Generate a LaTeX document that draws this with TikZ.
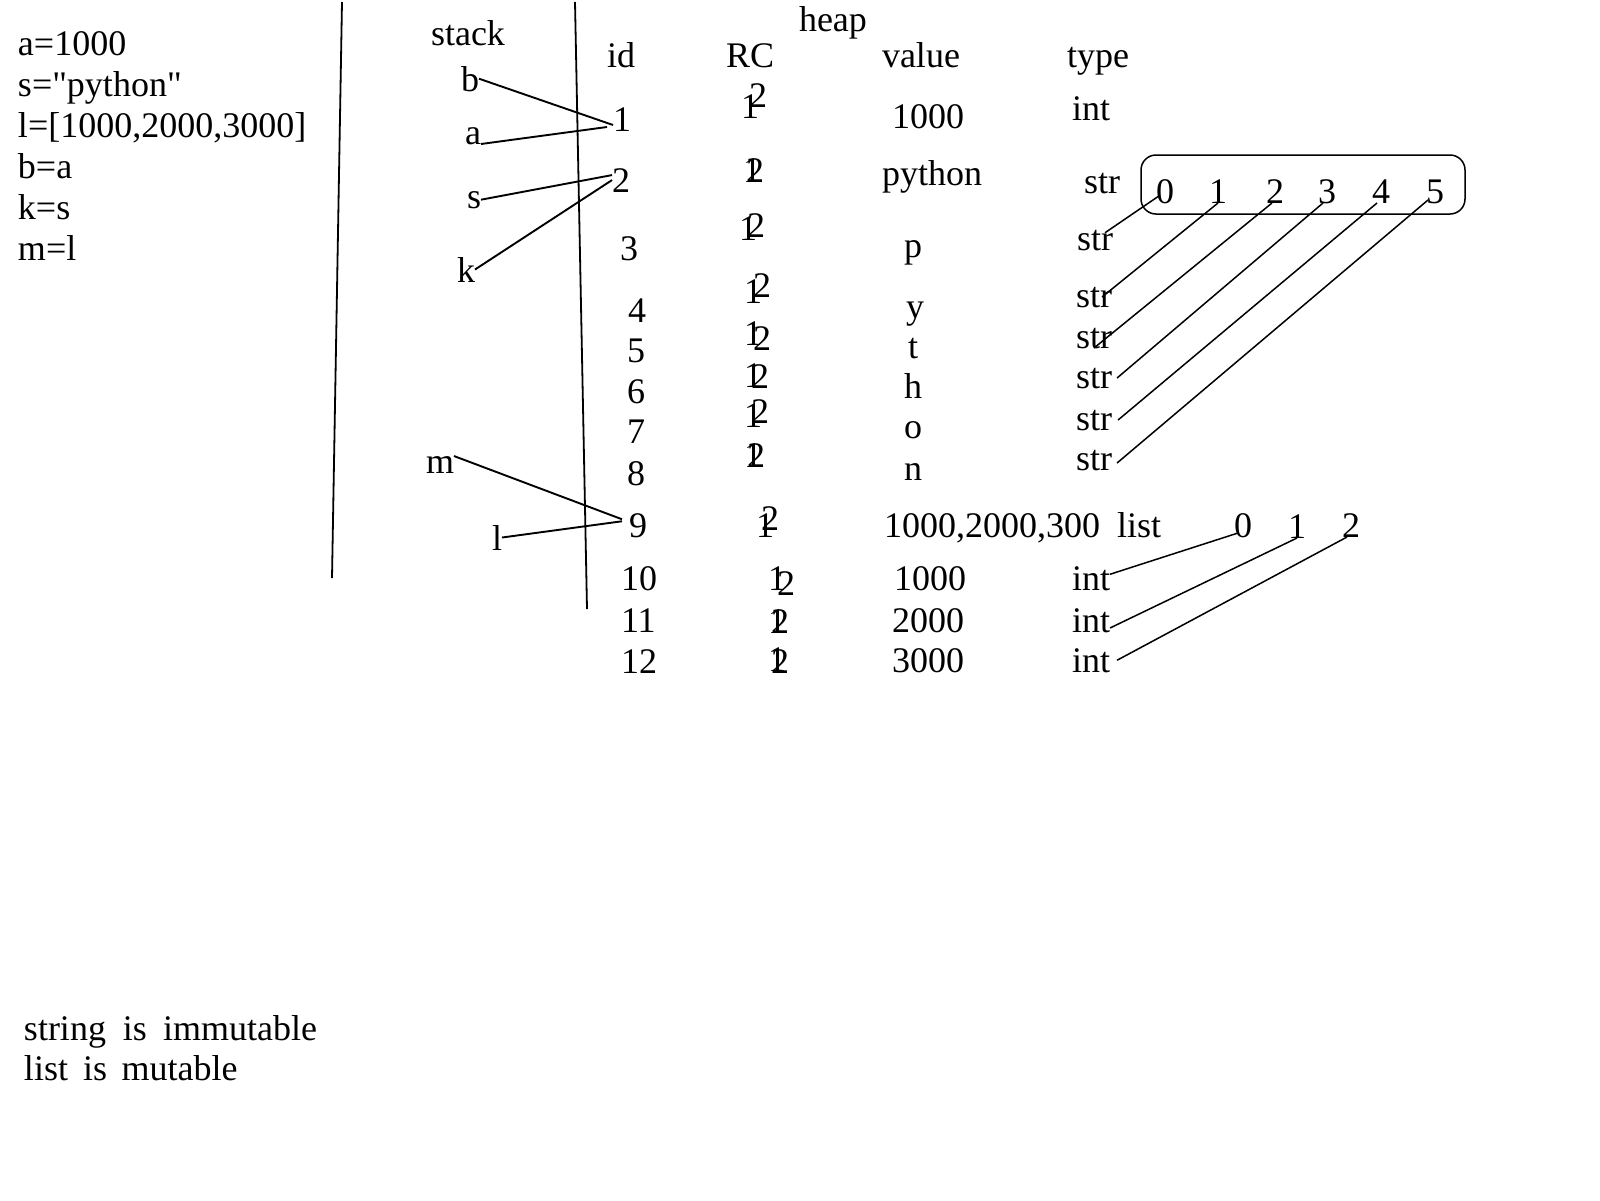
\documentclass[tikz,border=0pt]{standalone}
\usepackage{fontspec}
\setmainfont{Liberation Serif}[Ligatures=TeXOff]
\begin{document}
\begin{tikzpicture}[x=0.5pt,y=-0.5pt,
  every node/.style={inner sep=0pt, outer sep=0pt, anchor=base west, font=\fontsize{18}{21}\selectfont},
  conn/.style={line width=0.75pt},
  stackconn/.style={line width=0.95pt},
  divider/.style={line width=0.9pt},
  strboxstyle/.style={draw, line width=0.75pt, rounded corners=7.5pt, anchor=center, minimum width=162pt, minimum height=29.5pt}]
\useasboundingbox (0,0) rectangle (1600,1200);
% code
\node (c1) at (18,55) {a=1000};
\node (c2) at (18,96) {s="python"};
\node (c3) at (18,137) {l=[1000,2000,3000]};
\node (c4) at (18,178) {b=a};
\node (c5) at (18,219) {k=s};
\node (c6) at (18,260) {m=l};
\node (n1) at (24,1040) {string\hspace{0.47em}is\hspace{0.45em}immutable};
\node (n2) at (24,1080) {list\hspace{0.42em}is\hspace{0.4em}mutable};
% dividers
\draw[divider] (342,2) -- (332,578);
\draw[divider] (575,2) -- (587,609);
% headers
\node (hstack) at (431,45) {stack};
\node (hheap) at (799,31) {heap};
\node (hid) at (607,67) {id};
\node (hrc) at (726,67) {RC};
\node (hval) at (882,67) {value};
\node (htype) at (1067,67) {type};
% stack variables
\node (vb) at (461,91) {b};
\node (va) at (465,144) {a};
\node (vs) at (467,208) {s};
\node (vk) at (457,282) {k};
\node (vm) at (426,473) {m};
\node (vl) at (492,550) {l};
% ids
\node (id1) at (613,131) {1};
\node (id2) at (612,192) {2};
\node (id3) at (620,260) {3};
\node (id4) at (628,322) {4};
\node (id5) at (627,362) {5};
\node (id6) at (627,403) {6};
\node (id7) at (627,443) {7};
\node (id8) at (627,485) {8};
\node (id9) at (629,537) {9};
\node (id10) at (621,590) {10};
\node (id11) at (621,632) {11};
\node (id12) at (621,673) {12};
% RC (overwritten 1 -> 2)
\node (ra1) at (741,118) {1}; \node (rb1) at (749,107) {2};
\node (ra2) at (743,182) {1}; \node (rb2) at (746,182) {2};
\node (ra3) at (739,240) {1}; \node (rb3) at (747,237) {2};
\node (ra4) at (744,303) {1}; \node (rb4) at (753,297) {2};
\node (ra5) at (744,345) {1}; \node (rb5) at (753,350) {2};
\node (ra6) at (744,387) {1}; \node (rb6) at (751,388) {2};
\node (ra7) at (744,427) {1}; \node (rb7) at (751,423) {2};
\node (ra8) at (744,467) {1}; \node (rb8) at (747,467) {2};
\node (ra9) at (756,537) {1}; \node (rb9) at (761,530) {2};
\node (ra10) at (768,590) {1}; \node (rb10) at (777,595) {2};
\node (ra11) at (768,633) {1}; \node (rb11) at (771,633) {2};
\node (ra12) at (768,671) {1}; \node (rb12) at (771,673) {2};
% values
\node (val1) at (892,128) {1000};
\node (val2) at (882,185) {python};
\node (val3) at (904,257) {p};
\node (val4) at (906,318) {y};
\node (val5) at (908,358) {t};
\node (val6) at (904,398) {h};
\node (val7) at (904,438) {o};
\node (val8) at (904,480) {n};
\node (val9) at (884,537) {1000,2000,300};
\node (val10) at (894,590) {1000};
\node (val11) at (892,632) {2000};
\node (val12) at (892,672) {3000};
% types
\node (t1) at (1072,120) {int};
\node (t2) at (1084,193) {str};
\node (t3) at (1077,250) {str};
\node (t4) at (1076,307) {str};
\node (t5) at (1076,348) {str};
\node (t6) at (1076,388) {str};
\node (t7) at (1076,430) {str};
\node (t8) at (1076,470) {str};
\node (t9) at (1117,537) {list};
\node (t10) at (1072,590) {int};
\node (t11) at (1072,632) {int};
\node (t12) at (1072,672) {int};
% string index box
\node[strboxstyle] (sbox) at (1303,184.5) {};
\node (d0) at (1156,203) {0};
\node (d1) at (1209,203) {1};
\node (d2) at (1266,203) {2};
\node (d3) at (1318,203) {3};
\node (d4) at (1372,203) {4};
\node (d5) at (1426,203) {5};
% list indices
\node (l0) at (1234,537) {0};
\node (l1) at (1288,538) {1};
\node (l2) at (1342,537) {2};
% stack connectors
\draw[stackconn] (vb.east) -- ([yshift=3pt]id1.base west);
\draw[stackconn] (va.base east) -- ([xshift=-3pt,yshift=2pt]id1.base west);
\draw[stackconn] (vs.east) -- ([yshift=2.5pt]id2.west);
\draw[stackconn] (vk.east) -- (id2.west);
\draw[stackconn] (vm.north east) -- ([xshift=-3.5pt,yshift=3pt]id9.west);
\draw[stackconn] (vl.east) -- ([xshift=-3.5pt,yshift=2pt]id9.west);
% string connectors
\draw[conn] ([xshift=2pt,yshift=-2pt]d0.west) -- ([xshift=-4pt,yshift=-1.5pt]t3.north east);
\draw[conn] (d1.base) -- ([xshift=4pt]t4.center);
\draw[conn] ([xshift=-1.5pt]d2.base) -- (t5.base);
\draw[conn] ([xshift=-2pt]d3.base) -- ([xshift=2.5pt]t6.east);
\draw[conn] ([xshift=-2pt]d4.base) -- ([xshift=3pt]t7.east);
\draw[conn] ([xshift=-3.5pt,yshift=1.5pt]d5.base) -- ([xshift=2.5pt,yshift=-1.5pt]t8.east);
% list connectors
\draw[conn] ([xshift=2pt,yshift=2pt]l0.base west) -- ([yshift=2pt]t10.east);
\draw[conn] (l1.base) -- ([yshift=2pt]t11.base east);
\draw[conn] ([xshift=2.5pt]l2.base west) -- ([xshift=3.5pt]t12.east);
\end{tikzpicture}
\end{document}
